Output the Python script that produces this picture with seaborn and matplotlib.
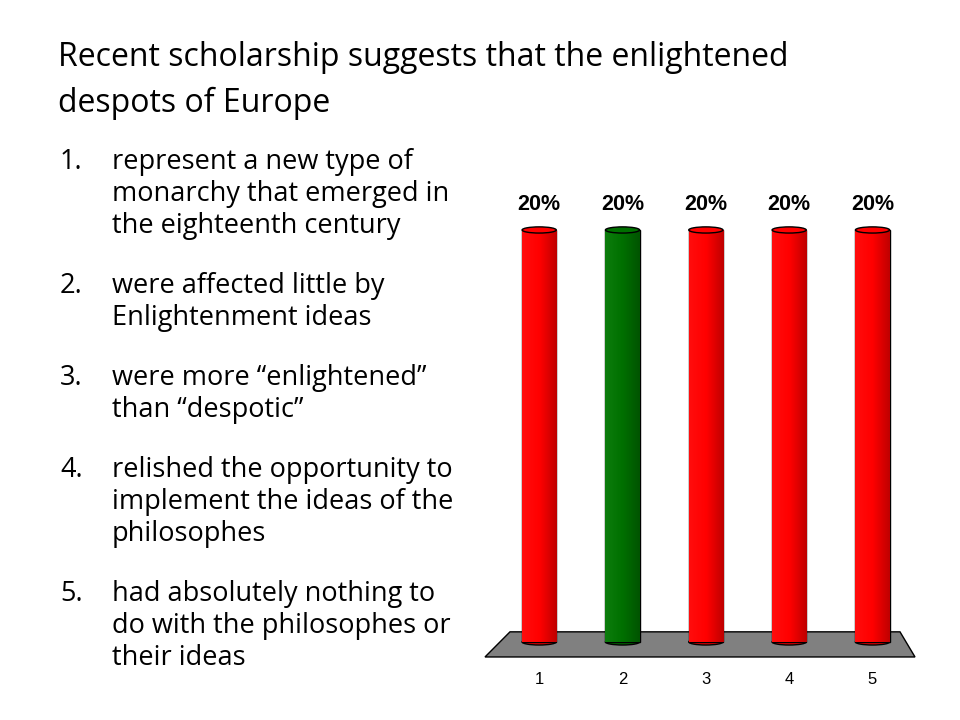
import matplotlib
matplotlib.use('Agg')
import matplotlib.pyplot as plt
from matplotlib.patches import Ellipse, Polygon
from matplotlib.colors import LinearSegmentedColormap, to_rgb
import seaborn as sns
import numpy as np

title_lines = ["Recent scholarship suggests that the enlightened", "despots of Europe"]
answers = [
    ["represent a new type of", "monarchy that emerged in", "the eighteenth century"],
    ["were affected little by", "Enlightenment ideas"],
    ["were more \u201cenlightened\u201d", "than \u201cdespotic\u201d"],
    ["relished the opportunity to", "implement the ideas of the", "philosophes"],
    ["had absolutely nothing to", "do with the philosophes or", "their ideas"],
]
categories = ["1", "2", "3", "4", "5"]
percents = [20, 20, 20, 20, 20]
bar_colors = ["#ff0000", "#007000", "#ff0000", "#ff0000", "#ff0000"]

sns.set_style("white")
plt.rcParams['font.family'] = ['Open Sans', 'DejaVu Sans']
plt.rcParams['text.color'] = 'black'
plt.rcParams['xtick.color'] = 'black'

fig = plt.figure(figsize=(9.6, 7.2), dpi=100)
W, H = 960, 720

# title and answer list
for i, line in enumerate(title_lines):
    fig.text(58 / W, 1 - (58 + 45 * i) / H, line, fontsize=23, va='center', ha='left')

y = 162
for n, item in enumerate(answers):
    fig.text(60 / W, 1 - y / H, f"{n + 1}.", fontsize=19.5, va='center', ha='left')
    for j, line in enumerate(item):
        fig.text(112 / W, 1 - y / H, line, fontsize=19.5, va='center', ha='left')
        y += 32
    y += 28

# chart
ax = fig.add_axes([470 / W, 55 / H, 460 / W, 475 / H])
bw = 0.41
sns.barplot(x=categories, y=percents, hue=categories, palette=bar_colors, legend=False,
            width=bw, saturation=1, edgecolor='black', linewidth=1, ax=ax, zorder=2)
ax.set_xlim(-0.83, 4.69)
ax.set_ylim(-1.12, 21.94)

n = len(categories)
floor = Polygon([(-0.65, -0.73), (n - 0.49, -0.73), (n - 0.67, 0.49), (-0.35, 0.49)],
                closed=True, facecolor='#808080', edgecolor='black', linewidth=1, zorder=0.5)
ax.add_patch(floor)

cap_h = 0.3
grad = np.linspace(0, 1, 64).reshape(1, -1)
for patch, col, v in zip(ax.patches, bar_colors, percents):
    x0 = patch.get_x()
    w = patch.get_width()
    xc = x0 + w / 2
    base = np.array(to_rgb(col))
    cmap = LinearSegmentedColormap.from_list('c', [np.minimum(base + 0.05, 1), base, base * 0.75])
    im = ax.imshow(grad, extent=[x0, x0 + w, 0, v], aspect='auto', cmap=cmap, zorder=2.1)
    im.set_clip_path(patch)
    bottom = Ellipse((xc, 0), w, cap_h, facecolor=base * 0.9, edgecolor='black', linewidth=1, zorder=1)
    ax.add_patch(bottom)
    top = Ellipse((xc, v), w, cap_h, facecolor=base, edgecolor='black', linewidth=1, zorder=3)
    ax.add_patch(top)
    ax.annotate(f"{v}%", (xc, v), xytext=(0, 18), textcoords='offset points',
                ha='center', va='center', fontsize=15.5, fontweight='bold',
                family=['Liberation Sans', 'DejaVu Sans'], zorder=4)

ax.set_ylabel("")
ax.set_xlabel("")
ax.set_yticks([])
ax.tick_params(axis='x', length=0, pad=5, labelsize=12)
for lab in ax.get_xticklabels():
    lab.set_family(['Liberation Sans', 'DejaVu Sans'])
for s in ax.spines.values():
    s.set_visible(False)

fig.savefig("out.png", dpi=100)
